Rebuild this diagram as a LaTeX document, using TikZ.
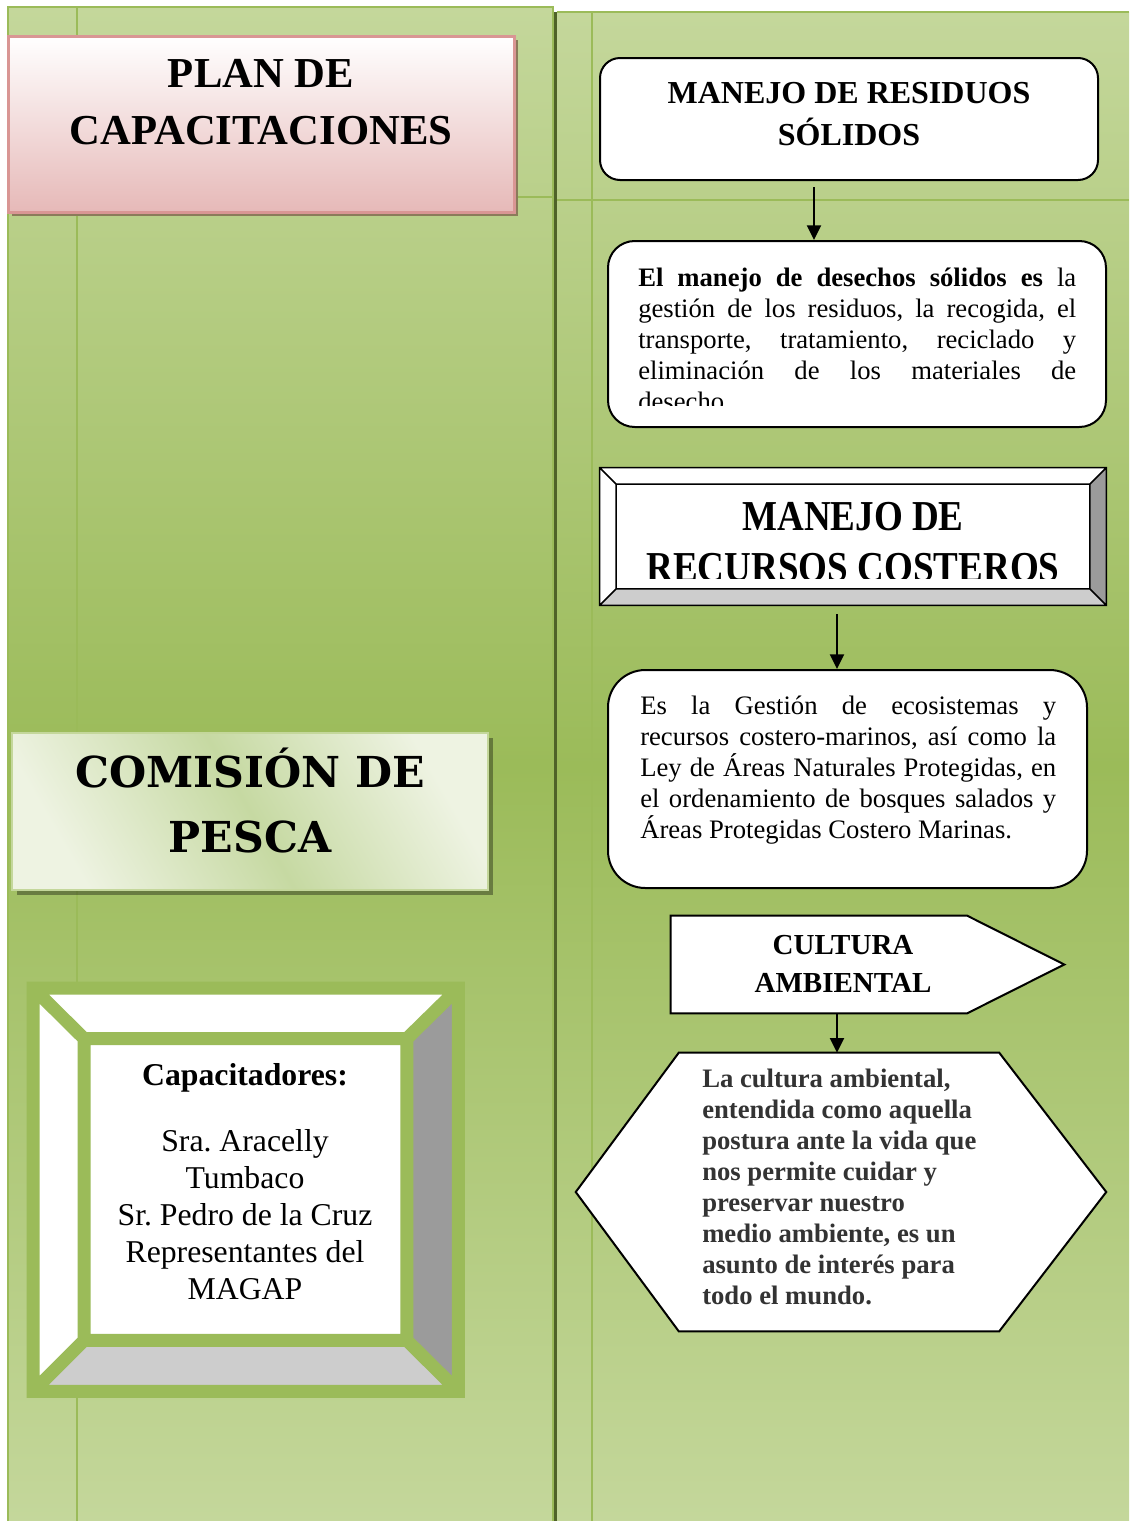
\documentclass[tikz,border=0pt]{standalone}
\usepackage{fontspec}
\usepackage{graphicx}
\setmainfont{Liberation Serif}
\newfontfamily\pescafont{DejaVu Serif}
\usetikzlibrary{arrows.meta,calc,fit,shadows}
\frenchspacing

\definecolor{bgLight}{HTML}{C4D79B}
\definecolor{bgDark}{HTML}{9BBB59}
\definecolor{lineGreen}{HTML}{9BBB59}
\definecolor{darkGreen}{HTML}{4F6228}
\definecolor{pinkBot}{HTML}{E6B9B8}
\definecolor{pinkLine}{HTML}{D99694}
\definecolor{shadowBrown}{HTML}{8B7B5B}
\definecolor{cmLight}{HTML}{EEF3E2}
\definecolor{cmMid}{HTML}{C6D9A2}
\definecolor{bevelDark}{HTML}{9B9B9B}
\definecolor{bevelLight}{HTML}{CDCDCD}
\definecolor{hexText}{HTML}{333333}

\newcommand{\pxu}{0.75pt}

\begin{document}
\begin{tikzpicture}[x=0.75pt, y=-0.75pt,
  panel/.style={top color=bgLight, bottom color=bgLight, middle color=bgDark},
  guide/.style={draw=lineGreen, line width=2*\pxu},
  box/.style={draw, fill=white, line width=2*\pxu, inner sep=0pt},
  shapeline/.style={draw, fill=white, line width=2*\pxu, line join=miter},
  arr/.style={-{Triangle[width=10.5pt,length=11pt]}, line width=2*\pxu},
  bevelline/.style={draw, line width=1.5*\pxu, line join=miter},
  greenframe/.style={draw=lineGreen, line width=13*\pxu, line join=miter},
  bigtitle/.style={font=\bfseries\fontsize{32}{42.75}\selectfont, align=center, inner sep=0pt},
  midtitle/.style={font=\bfseries\fontsize{24}{31.5}\selectfont, align=center, inner sep=0pt},
  costtitle/.style={font=\bfseries\fontsize{27.8}{38.5}\selectfont, align=center, inner sep=0pt},
  smalltitle/.style={font=\bfseries\fontsize{21.75}{29}\selectfont, align=center, inner sep=0pt},
  captext/.style={font=\fontsize{23.8}{27.75}\selectfont, align=center, inner sep=0pt},
  bodytext/.style={font=\fontsize{20}{23.25}\selectfont, align=justify, inner sep=0pt},
  hextext/.style={font=\bfseries\fontsize{20}{23.2}\selectfont, text=hexText, align=left, inner sep=0pt}
]
\useasboundingbox (0,0) rectangle (1129,1521);

% background panels
\shade[panel] (8,7) rectangle (553,1521);
\shade[panel] (557,12) rectangle (1129,1521);
\draw[guide] (8,1521) -- (8,7) -- (553,7) -- (553,1521);
\draw[guide] (557,12) -- (1129,12);
\draw[guide] (77,7) -- (77,1521);
\draw[guide] (592,12) -- (592,1521);
\draw[guide] (8,197) -- (553,197);
\draw[guide] (557,200) -- (1129,200);
\draw[darkGreen, line width=3*\pxu] (555.5,12) -- (555.5,1521);

% left column
\node[fit={(8,36) (514,212)}, inner sep=0pt, draw=pinkLine, line width=3*\pxu,
      top color=white, bottom color=pinkBot,
      drop shadow={shadow xshift=3pt, shadow yshift=-3pt, fill=shadowBrown, opacity=1}] (plan) {};
\node[bigtitle] (plantxt) at (261,102) {PLAN DE\\CAPACITACIONES};

\node[fit={(12,733) (488,890)}, inner sep=0pt, draw=bgLight, line width=1.5*\pxu,
      left color=cmLight, right color=cmLight, middle color=cmMid, shading angle=120,
      drop shadow={shadow xshift=3.75pt, shadow yshift=-3.75pt, fill=black, opacity=.35}] (pesca) {};
\node[font=\pescafont\bfseries\fontsize{32}{48.75}\selectfont, align=center, inner sep=0pt]
      (pescatxt) at (250,801) {COMISIÓN DE\\PESCA};

\node[fit={(33.5,988.5) (458,1391)}, inner sep=0pt] (capbox) {};
\node[fit={(84.5,1039) (406.5,1340)}, inner sep=0pt, fill=white] (capin) {};
\fill[white] (capbox.north west) -- (capbox.north east) -- (capin.north east) -- (capin.north west) -- cycle;
\fill[white] (capbox.north west) -- (capin.north west) -- (capin.south west) -- (capbox.south west) -- cycle;
\fill[bevelDark] (capbox.north east) -- (capbox.south east) -- (capin.south east) -- (capin.north east) -- cycle;
\fill[bevelLight] (capbox.south west) -- (capbox.south east) -- (capin.south east) -- (capin.south west) -- cycle;
\draw[greenframe] (capbox.north west) rectangle (capbox.south east)
                  (capin.north west) rectangle (capin.south east)
                  (capbox.north west) -- (capin.north west) (capbox.north east) -- (capin.north east)
                  (capbox.south west) -- (capin.south west) (capbox.south east) -- (capin.south east);
\node[captext] (captxt) at (245,1182) {\textbf{Capacitadores:}\\[21.75pt]Sra. Aracelly\\Tumbaco\\Sr. Pedro de la Cruz\\Representantes del\\MAGAP};

% right column
\node[box, rounded corners=15pt, fit={(600,58) (1098,180)}] (resid) {};
\node[midtitle] (residtxt) at (849,114) {MANEJO DE RESIDUOS\\SÓLIDOS};

\node[box, rounded corners=20pt, fit={(608,241) (1106,427)}] (resbox) {};
\begin{scope}
  \clip (608,241) rectangle (1106,405);
  \node[bodytext, text width=328.5pt, anchor=base west] (restxt) at (638,286)
    {\textbf{El manejo de desechos sólidos es} la\linebreak gestión de los residuos, la recogida, el\linebreak transporte, tratamiento, reciclado y\linebreak eliminación de los materiales de\linebreak desecho.};
\end{scope}

\node[fit={(600,468) (1106,605)}, inner sep=0pt, fill=white] (costbox) {};
\node[fit={(616.5,484.5) (1089.5,588.5)}, inner sep=0pt] (costin) {};
\fill[bevelDark] (costbox.north east) -- (costbox.south east) -- (costin.south east) -- (costin.north east) -- cycle;
\fill[bevelLight] (costbox.south west) -- (costbox.south east) -- (costin.south east) -- (costin.south west) -- cycle;
\begin{scope}
  \clip (costin.north west) rectangle (1089.5,578);
  \node[costtitle, anchor=north] (costtxt) at (853,502)
    {\scalebox{1}[1.15]{MANEJO DE}\\\scalebox{1}[1.15]{RECURSOS COSTEROS}};
\end{scope}
\draw[bevelline] (costbox.north west) rectangle (costbox.south east)
                 (costin.north west) rectangle (costin.south east)
                 (costbox.north west) -- (costin.north west) (costbox.north east) -- (costin.north east)
                 (costbox.south west) -- (costin.south west) (costbox.south east) -- (costin.south east);

\node[box, rounded corners=28pt, fit={(608,670) (1087,888)}] (costdesc) {};
\node[bodytext, text width=312pt, anchor=base west] (costdesctxt) at (640,714)
  {Es la Gestión de ecosistemas y\linebreak recursos costero-marinos, así como la\linebreak Ley de Áreas Naturales Protegidas, en\linebreak el ordenamiento de bosques salados y\linebreak Áreas Protegidas Costero Marinas.};

\node[fit={(671,916) (1064,1013)}, inner sep=0pt] (cult) {};
\path[shapeline] (cult.north west) -- ($(cult.north east)+(-97,0)$) -- (cult.east)
                 -- ($(cult.south east)+(-97,0)$) -- (cult.south west) -- cycle;
\node[smalltitle] (culttxt) at (843,964) {CULTURA\\AMBIENTAL};

\node[fit={(576,1053) (1106,1331)}, inner sep=0pt] (hexa) {};
\path[shapeline] ($(hexa.north west)+(103,0)$) -- ($(hexa.north east)+(-107,0)$) -- (hexa.east)
                 -- ($(hexa.south east)+(-107,0)$) -- ($(hexa.south west)+(103,0)$) -- (hexa.west) -- cycle;
\node[hextext, anchor=base west] (hextxt) at (702,1304)
  {La cultura ambiental,\\entendida como aquella\\postura ante la vida que\\nos permite cuidar y\\preservar nuestro\\medio ambiente, es un\\asunto de interés para\\todo el mundo.};

% arrows
\coordinate (ax1) at (814,0);
\coordinate (ax2) at (837,0);
\draw[arr] ($(resid.south -| ax1)+(0,6)$) -- (resbox.north -| ax1);
\draw[arr] ($(costbox.south -| ax2)+(0,9)$) -- (costdesc.north -| ax2);
\draw[arr] (cult.south -| ax2) -- (hexa.north -| ax2);
\end{tikzpicture}
\end{document}
